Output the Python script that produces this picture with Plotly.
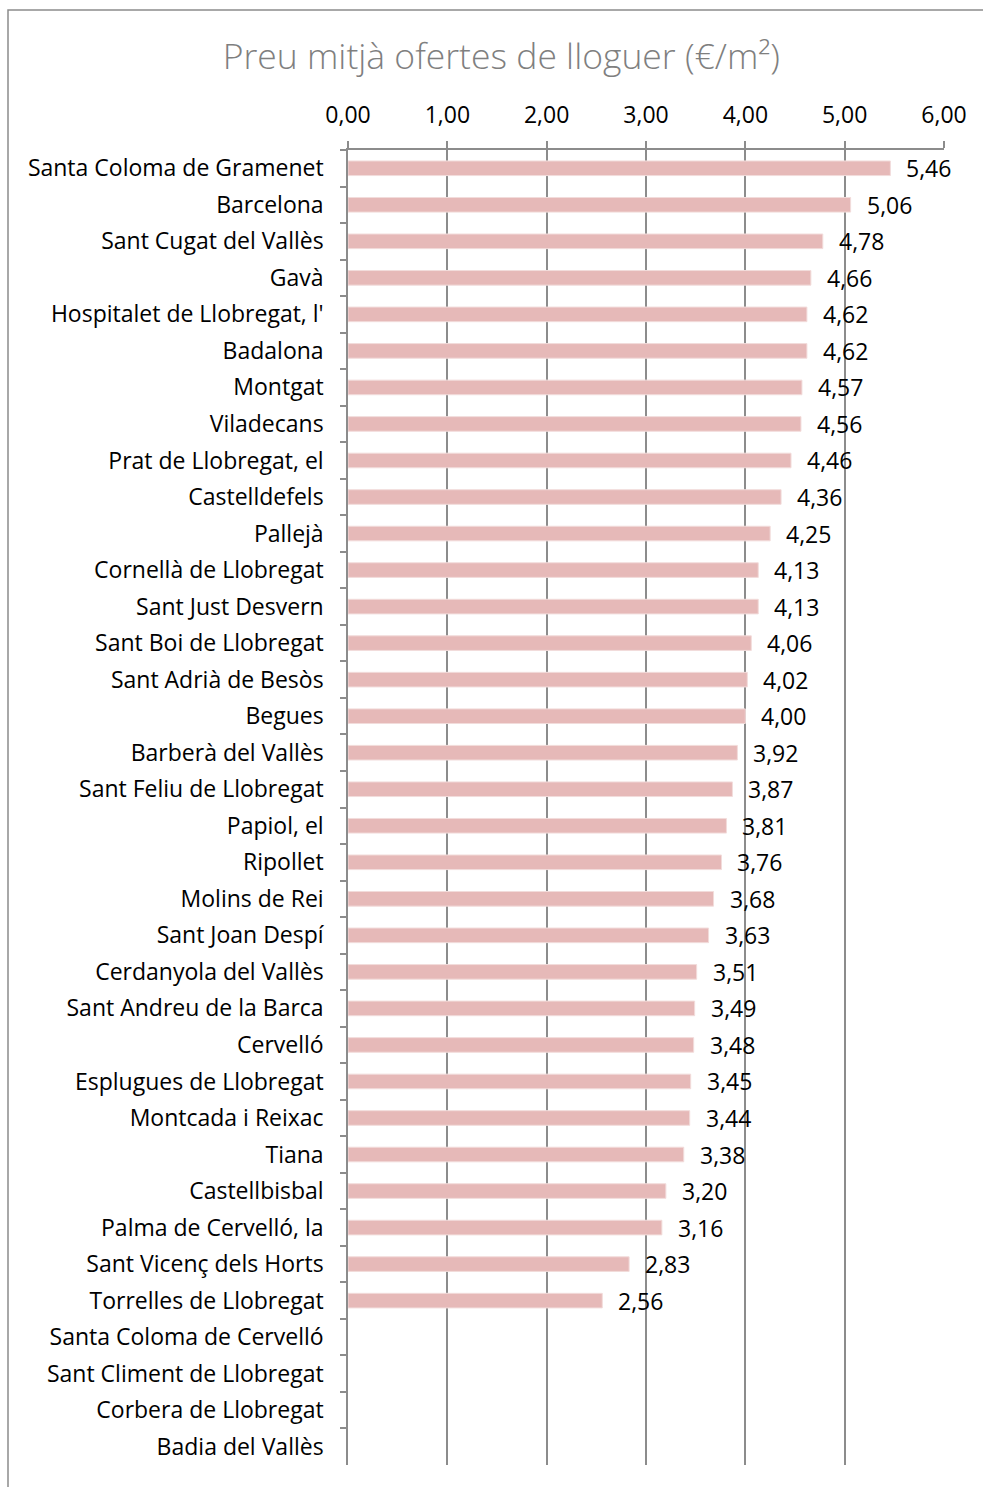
import plotly.graph_objects as go

title_text = "Preu mitjà ofertes de lloguer (€/m²)"
municipis = [
    "Santa Coloma de Gramenet", "Barcelona", "Sant Cugat del Vallès", "Gavà",
    "Hospitalet de Llobregat, l'", "Badalona", "Montgat", "Viladecans",
    "Prat de Llobregat, el", "Castelldefels", "Pallejà", "Cornellà de Llobregat",
    "Sant Just Desvern", "Sant Boi de Llobregat", "Sant Adrià de Besòs", "Begues",
    "Barberà del Vallès", "Sant Feliu de Llobregat", "Papiol, el", "Ripollet",
    "Molins de Rei", "Sant Joan Despí", "Cerdanyola del Vallès", "Sant Andreu de la Barca",
    "Cervelló", "Esplugues de Llobregat", "Montcada i Reixac", "Tiana",
    "Castellbisbal", "Palma de Cervelló, la", "Sant Vicenç dels Horts", "Torrelles de Llobregat",
    "Santa Coloma de Cervelló", "Sant Climent de Llobregat", "Corbera de Llobregat", "Badia del Vallès",
]
preus = [
    5.46, 5.06, 4.78, 4.66,
    4.62, 4.62, 4.57, 4.56,
    4.46, 4.36, 4.25, 4.13,
    4.13, 4.06, 4.02, 4.00,
    3.92, 3.87, 3.81, 3.76,
    3.68, 3.63, 3.51, 3.49,
    3.48, 3.45, 3.44, 3.38,
    3.20, 3.16, 2.83, 2.56,
    None, None, None, None,
]
x_ticks = [0, 1, 2, 3, 4, 5, 6]

FONT = "Open Sans, Lato, sans-serif"
GRID = "#8c8c8c"

fig = go.Figure()
fig.add_trace(go.Bar(
    x=preus, y=municipis, orientation="h",
    width=0.4,
    marker=dict(color="#E6B9B8", line=dict(color="#F2DCDB", width=1)),
    hoverinfo="x+y",
))

for m, v in zip(municipis, preus):
    if v is None:
        continue
    fig.add_annotation(
        x=v, y=m, xref="x", yref="y",
        text=f"{v:.2f}".replace(".", ","),
        showarrow=False, xanchor="left", yanchor="middle", xshift=14,
        font=dict(family=FONT, size=23, color="#000000"),
    )

# outer chart border
fig.add_shape(type="rect", xref="paper", yref="paper",
              x0=(8 - 348) / 596, x1=(995 - 348) / 596,
              y0=(1465 - 1500) / 1315, y1=(1465 - 10) / 1315,
              line=dict(color="#8c8c8c", width=1.5), fillcolor="rgba(0,0,0,0)", layer="below")

fig.update_layout(
    width=983, height=1487,
    margin=dict(l=348, r=39, t=150, b=22),
    paper_bgcolor="white", plot_bgcolor="white",
    separators=",.",
    showlegend=False,
    title=dict(text=title_text, x=0.51, xanchor="center", y=1 - 57 / 1487, yanchor="middle",
               font=dict(family=FONT, size=35.5, color="#7f7f7f", weight=300)),
    xaxis=dict(
        side="top", range=[0, 6], tickvals=x_ticks, tickformat=".2f",
        showgrid=True, gridcolor=GRID, gridwidth=1.5,
        showline=True, linecolor=GRID, linewidth=1.5,
        ticks="outside", ticklen=7, tickcolor=GRID, tickwidth=1.5,
        tickfont=dict(family=FONT, size=23, color="#000000"),
        ticklabelstandoff=9,
        zeroline=False, fixedrange=True,
    ),
    yaxis=dict(
        categoryorder="array", categoryarray=municipis, autorange="reversed",
        showline=True, linecolor=GRID, linewidth=1.5,
        ticks="outside", ticklen=6, tickcolor=GRID, tickwidth=1.5,
        tickson="boundaries",
        tickfont=dict(family=FONT, size=23, color="#000000"),
        ticklabelstandoff=18,
        showgrid=False, zeroline=False, fixedrange=True,
    ),
)

fig.write_html("out.html", config={"displayModeBar": False},
               post_script="document.body.style.margin='0';document.body.style.overflow='hidden';")
